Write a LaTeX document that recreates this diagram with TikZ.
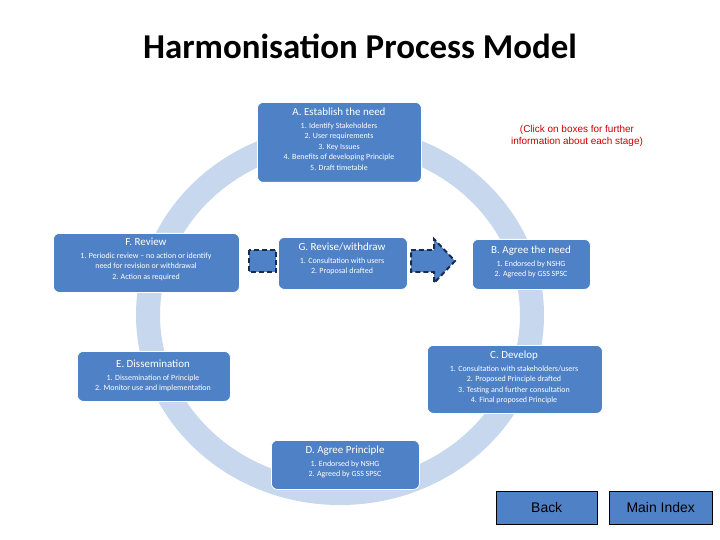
\documentclass[tikz,border=0pt]{standalone}
\usepackage{fontspec}
\setmainfont{Carlito}
\newfontfamily\arialf{Liberation Sans}
\usetikzlibrary{arrows.meta}
\definecolor{boxblue}{RGB}{79,129,199}
\definecolor{ringblue}{RGB}{198,215,238}
\definecolor{darknavy}{RGB}{22,45,80}
\tikzset{
 stage/.style={draw=white,line width=0.8pt,fill=boxblue,rounded corners=6pt,anchor=north west},
 stxt/.style={align=center,text=white,font=\fontsize{8}{10.5}\selectfont,anchor=north,inner sep=0pt},
 btn/.style={draw=black,fill=boxblue,font=\arialf\fontsize{14}{16}\selectfont,minimum width=101bp,minimum height=33bp,anchor=north west,inner sep=0pt},
 dsh/.style={draw=darknavy,line width=2pt,dash pattern=on 5pt off 3pt,fill=boxblue}
}
\newcommand{\hd}[1]{{\fontsize{11}{13}\selectfont #1}}
\begin{document}
\begin{tikzpicture}[x=1bp,y=-1bp]
\useasboundingbox (0,0) rectangle (720,540);
\fill[white] (0,0) rectangle (720,540);
\node (title) at (360,46) {\fontsize{35}{40}\selectfont\bfseries Harmonisation Process Model};
\draw[ringblue,line width=24bp] (340,315) ellipse [x radius=192, y radius=178];
\node[stage,minimum width=164bp,minimum height=80bp] (A) at (257,102) {};
\node[stxt] (At) at (339,108) {\hd{A. Establish the need}\\[2pt]1. Identify Stakeholders\\2. User requirements\\3. Key Issues\\4. Benefits of developing Principle\\5. Draft timetable};
\node[font=\arialf\fontsize{10}{12}\selectfont,text=red!80!black,align=center] (click) at (577,136) {(Click on boxes for further\\information about each stage)};
\node[stage,minimum width=118bp,minimum height=50bp] (B) at (472,239) {};
\node[stxt] (Bt) at (531,246) {\hd{B. Agree the need}\\[2pt]1. Endorsed by NSHG\\2. Agreed by GSS SPSC};
\node[stage,minimum width=175bp,minimum height=68bp] (C) at (427,345) {};
\node[stxt] (Ct) at (514,351) {\hd{C. Develop}\\[2pt]1. Consultation with stakeholders/users\\2. Proposed Principle drafted\\3. Testing and further consultation\\4. Final proposed Principle};
\node[stage,minimum width=148bp,minimum height=49bp] (D) at (271,440) {};
\node[stxt] (Dt) at (345,446) {\hd{D. Agree Principle}\\[2pt]1. Endorsed by NSHG\\2. Agreed by GSS SPSC};
\node[stage,minimum width=153bp,minimum height=50bp] (E) at (77,351) {};
\node[stxt] (Et) at (153,360) {\hd{E. Dissemination}\\[2pt]1. Dissemination of Principle\\2. Monitor use and implementation};
\node[stage,minimum width=186bp,minimum height=59bp] (F) at (53,233) {};
\node[stxt] (Ft) at (146,238) {\hd{F. Review}\\[2pt]1. Periodic review -- no action or identify\\need for revision or withdrawal\\2. Action as required};
\node[stage,minimum width=129bp,minimum height=52bp] (G) at (278,237) {};
\node[stxt] (Gt) at (342,243) {\hd{G. Revise/withdraw}\\[2pt]1. Consultation with users\\2. Proposal drafted};
\draw[dsh] (249,250) rectangle (276,272);
\draw[dsh] (411,250) -- (434,250) -- (434,239) -- (455,261) -- (434,283) -- (434,272) -- (411,272) -- cycle;
\node[btn] (back) at (496,491) {Back};
\node[btn,minimum width=103bp] (main) at (609,491) {Main Index};
\end{tikzpicture}
\end{document}
